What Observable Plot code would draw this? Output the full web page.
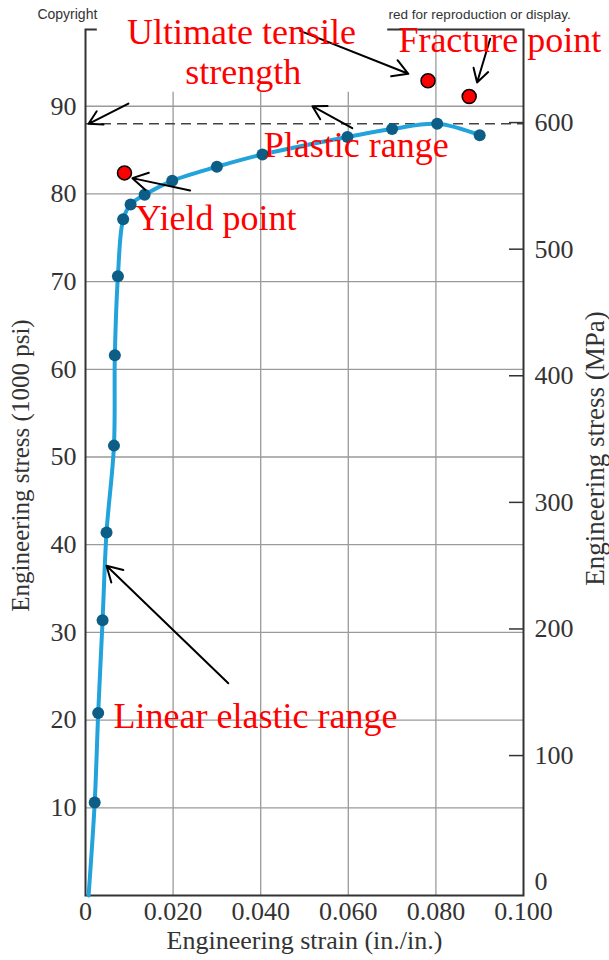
<!DOCTYPE html>
<html>
<head>
<meta charset="utf-8">
<script src="https://cdn.jsdelivr.net/npm/d3@7"></script>
<script src="https://cdn.jsdelivr.net/npm/@observablehq/plot@0.6"></script>
<style>
  html, body { margin: 0; padding: 0; background: #fff; }
  #chart svg { display: block; }
</style>
</head>
<body>
<div id="chart"></div>
<script>
// ---- Data ----
const strain = [0.0021, 0.0029, 0.0039, 0.0048, 0.0065, 0.0067, 0.0074, 0.0086, 0.0103, 0.0135, 0.0198, 0.0300, 0.0404, 0.0598, 0.0700, 0.0803, 0.0900];
const stress = [10.6, 20.8, 31.4, 41.4, 51.3, 61.6, 70.6, 77.1, 78.8, 79.9, 81.5, 83.1, 84.5, 86.5, 87.4, 88.0, 86.7];
const curveStart = {strain: 0.0007, stress: 0};

const xTicks = [0, 0.02, 0.04, 0.06, 0.08, 0.1];
const xTickLabels = ["0", "0.020", "0.040", "0.060", "0.080", "0.100"];
const yTicks = [10, 20, 30, 40, 50, 60, 70, 80, 90];
const mpaTicks = [0, 100, 200, 300, 400, 500, 600];
// MPa axis as printed in the figure (ksi position of each MPa tick)
const mpaToKsi = m => 1.52 + 0.14436 * m;

const dashedLevel = [88];

// key points (red markers)
const keyNames = ["Yield point", "Ultimate tensile strength", "Fracture point"];
const keyStrain = [0.0089, 0.0782, 0.0876];
const keyStress = [82.4, 92.9, 91.1];

// annotation labels
const noteText = ["Ultimate tensile", "strength", "Fracture point", "Plastic range", "Yield point", "Linear elastic range"];
const noteStrain = [0.0356, 0.0360, 0.0946, 0.0618, 0.0298, 0.0388];
const noteStress = [98.4, 93.8, 97.5, 85.5, 77.2, 20.4];

// arrows: from (x1,y1) to (x2,y2)
const arrowFrom = [[0.0490, 98.6], [0.0924, 97.7], [0.0098, 90.3], [0.0609, 87.5], [0.0239, 80.4], [0.0326, 24.2]];
const arrowTo   = [[0.0737, 93.7], [0.0894, 92.7], [0.0007, 88.0], [0.0518, 90.0], [0.0107, 81.8], [0.0048, 37.6]];

// cover patch over part of the header (as in the source image)
const coverBox = [{x1: 0.0027, x2: 0.0690, y1: 91.6, y2: 120}];
const copyrightLeft = "Copyright";
const copyrightRight = "red for reproduction or display.";

// ---- Build tables ----
const points = strain.map((s, i) => ({strain: s, stress: stress[i]}));
const curve = [curveStart, ...points];
const keys = keyNames.map((n, i) => ({name: n, strain: keyStrain[i], stress: keyStress[i]}));
const notes = noteText.map((t, i) => ({text: t, strain: noteStrain[i], stress: noteStress[i]}));
const arrows = arrowFrom.map((f, i) => ({x1: f[0], y1: f[1], x2: arrowTo[i][0], y2: arrowTo[i][1]}));

const serif = "'Liberation Serif', 'Times New Roman', serif";
const sans = "'Liberation Sans', Arial, sans-serif";
const lineColor = "#22a3dc";
const dotColor = "#0d5e86";

const chart = Plot.plot({
  width: 609,
  height: 960,
  marginLeft: 85,
  marginRight: 86,
  marginTop: 29,
  marginBottom: 65,
  style: {fontFamily: serif, background: "#fff", color: "#333"},
  x: {domain: [0, 0.1]},
  y: {domain: [0, 98.75]},
  marks: [
    Plot.gridX(xTicks.slice(1, -1), {stroke: "#9a9a9a", strokeOpacity: 1, strokeWidth: 1.3}),
    Plot.gridY(yTicks, {stroke: "#9a9a9a", strokeOpacity: 1, strokeWidth: 1.3}),
    Plot.ruleY(dashedLevel, {stroke: "#444", strokeWidth: 1.6, strokeDasharray: "10,6"}),
    Plot.frame({stroke: "#333", strokeWidth: 2}),
    // right-hand MPa tick marks (inward)
    Plot.axisY(mpaTicks.slice(1).map(mpaToKsi), {anchor: "right", tickSize: 15, dx: -15, tickFormat: () => "", label: null, stroke: "#333", strokeWidth: 1.5}),
    Plot.line(curve, {x: "strain", y: "stress", stroke: lineColor, strokeWidth: 4, curve: "catmull-rom"}),
    Plot.dot(points, {x: "strain", y: "stress", r: 6, fill: dotColor}),
    Plot.rect(coverBox, {x1: "x1", x2: "x2", y1: "y1", y2: "y2", fill: "#fff"}),
    Plot.text([copyrightLeft], {x: 0.0027, y: 100.45, textAnchor: "end", fontSize: 14, fill: "#333", fontFamily: sans}),
    Plot.text([copyrightRight], {x: 0.0692, y: 100.45, textAnchor: "start", fontSize: 13.5, fill: "#333", fontFamily: sans}),
    Plot.arrow(arrows, {x1: "x1", y1: "y1", x2: "x2", y2: "y2", stroke: "#000", strokeWidth: 2, headLength: 13}),
    Plot.dot(keys, {x: "strain", y: "stress", r: 7, fill: "#ff0000", stroke: "#000", strokeWidth: 1.5}),
    Plot.text(notes, {x: "strain", y: "stress", text: "text", fill: "#ff0000", fontSize: 36, fontFamily: serif}),
    // axes
    Plot.axisY(yTicks, {anchor: "left", tickSize: 0, tickPadding: 9, fontSize: 26, label: null, fill: "#333"}),
    Plot.axisY(mpaTicks.map(mpaToKsi), {anchor: "right", tickSize: 0, tickPadding: 11, fontSize: 26, label: null, fill: "#333",
      tickFormat: d => String(mpaTicks[d3.minIndex(mpaTicks, m => Math.abs(mpaToKsi(m) - d))])}),
    Plot.axisX(xTicks, {anchor: "bottom", tickSize: 0, tickPadding: 6, fontSize: 26, label: null, fill: "#333",
      tickFormat: d => xTickLabels[d3.minIndex(xTicks, t => Math.abs(t - d))]}),
    Plot.text(["Engineering strain (in./in.)"], {frameAnchor: "bottom", dy: 53, fontSize: 26, fill: "#333", textAnchor: "middle"}),
    Plot.text(["Engineering stress (1000 psi)"], {frameAnchor: "left", dx: -65, dy: 3, rotate: -90, fontSize: 25, fill: "#333", textAnchor: "middle"}),
    Plot.text(["Engineering stress (MPa)"], {frameAnchor: "right", dx: 72, dy: -14, rotate: -90, fontSize: 27, fill: "#333", textAnchor: "middle"})
  ]
});
document.getElementById("chart").appendChild(chart);
</script>
</body>
</html>
